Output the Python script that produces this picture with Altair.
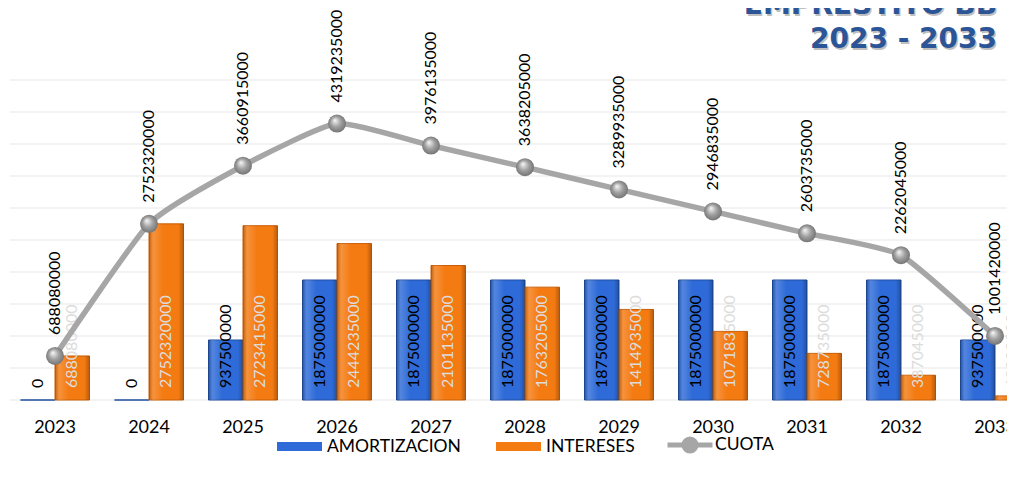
import altair as alt
import pandas as pd

# ---- data ----
years = ["2023", "2024", "2025", "2026", "2027", "2028", "2029", "2030", "2031", "2032", "2033"]
amortizacion = [0, 0, 937500000, 1875000000, 1875000000, 1875000000, 1875000000,
                1875000000, 1875000000, 1875000000, 937500000]
intereses = [688080000, 2752320000, 2723415000, 2444235000, 2101135000, 1763205000,
             1414935000, 1071835000, 728735000, 387045000, 63920000]
cuota = [688080000, 2752320000, 3660915000, 4319235000, 3976135000, 3638205000,
         3289935000, 2946835000, 2603735000, 2262045000, 1001420000]
series_bar = ["AMORTIZACION", "INTERESES"]
series_line = ["CUOTA"]
title_lines = ["EMPRESTITO BB", "2023 - 2033"]
grid_values = [i * 500000000 for i in range(11)]

BLUE = "#2E6BD8"
ORANGE = "#F47B12"
GRAY = "#A6A6A6"
FONT = "Lato"

rows = []
for i, y in enumerate(years):
    rows.append({"year": y, "serie": series_bar[0], "valor": amortizacion[i], "label": str(amortizacion[i])})
    rows.append({"year": y, "serie": series_bar[1], "valor": intereses[i], "label": str(intereses[i])})
bars_df = pd.DataFrame(rows)
line_df = pd.DataFrame({"year": years, "serie": series_line * len(years), "valor": cuota,
                        "label": [str(v) for v in cuota]})
title_df = pd.DataFrame({"t": title_lines})
grid_df = pd.DataFrame({"v": grid_values})

x_scale = alt.Scale(domain=years, range=[0, 1034], paddingInner=0.266, paddingOuter=0.133)
y_scale = alt.Scale(domain=[0, 6125000000], nice=False, zero=True)

x_enc = alt.X("year:N", scale=x_scale, sort=years,
              axis=alt.Axis(title=None, labelAngle=0, ticks=False, tickSize=0, domain=False,
                            grid=False, labelFont=FONT, labelFontSize=18, labelColor="#000000",
                            labelPadding=18))
y_enc = alt.Y("valor:Q", scale=y_scale, axis=None)

grid = alt.Chart(grid_df).mark_rule(color="#EFEFEF", strokeWidth=1.5).encode(
    y=alt.Y("v:Q", scale=y_scale, axis=None),
    x=alt.value(2),
    x2=alt.value(999),
)

base_bars = alt.Chart(bars_df)

bars = base_bars.mark_bar(strokeWidth=1).encode(
    x=x_enc,
    xOffset=alt.XOffset("serie:N", sort=series_bar, scale=alt.Scale(paddingInner=0)),
    y=y_enc,
    color=alt.Color("serie:N", sort=series_bar,
                    scale=alt.Scale(domain=series_bar, range=[BLUE, ORANGE]),
                    legend=alt.Legend(title=None, orient="none", direction="horizontal",
                                      legendX=269, legendY=416,
                                      symbolType="M-1,-0.2H1V0.2H-1Z", symbolSize=2025,
                                      symbolStrokeWidth=0,
                                      labelFont=FONT, labelFontSize=17.5, labelColor="#000000",
                                      labelOffset=5, columnPadding=35)),
    stroke=alt.Stroke("serie:N", sort=series_bar,
                      scale=alt.Scale(domain=series_bar, range=["#1F4E9E", "#C95E08"]),
                      legend=None),
)

# bevel-like shading overlay on the bars
shade = base_bars.mark_bar(
    color=alt.LinearGradient(gradient="linear", x1=0, y1=0, x2=1, y2=0,
                             stops=[alt.GradientStop(color="rgba(0,0,0,0.22)", offset=0),
                                    alt.GradientStop(color="rgba(255,255,255,0.18)", offset=0.12),
                                    alt.GradientStop(color="rgba(255,255,255,0.0)", offset=0.4),
                                    alt.GradientStop(color="rgba(0,0,0,0.0)", offset=0.85),
                                    alt.GradientStop(color="rgba(0,0,0,0.25)", offset=1)])
).encode(
    x=alt.X("year:N", scale=x_scale, sort=years),
    xOffset=alt.XOffset("serie:N", sort=series_bar),
    y=alt.Y("valor:Q", scale=y_scale),
)

amort_labels = base_bars.transform_filter(alt.datum.serie == series_bar[0]).mark_text(
    angle=270, align="left", baseline="middle", dx=12, font=FONT, fontSize=16, color="#000000"
).encode(
    x=alt.X("year:N", scale=x_scale, sort=years),
    xOffset=alt.XOffset("serie:N", sort=series_bar),
    y=alt.datum(0),
    text="label:N",
)

int_labels = base_bars.transform_filter(alt.datum.serie == series_bar[1]).mark_text(
    angle=270, align="left", baseline="middle", dx=12, font=FONT, fontSize=16, color="#DCDCDC"
).encode(
    x=alt.X("year:N", scale=x_scale, sort=years),
    xOffset=alt.XOffset("serie:N", sort=series_bar),
    y=alt.datum(0),
    text="label:N",
)

base_line = alt.Chart(line_df)

line = base_line.mark_line(interpolate="cardinal", tension=0.5, strokeWidth=5.5, strokeCap="round").encode(
    x=alt.X("year:N", scale=x_scale, sort=years),
    y=alt.Y("valor:Q", scale=y_scale),
    stroke=alt.Stroke("serie:N", scale=alt.Scale(domain=series_line, range=[GRAY]),
                      legend=alt.Legend(title=None, orient="none", direction="horizontal",
                                        legendX=657, legendY=412,
                                        symbolType="M-1,0H1M0.27,0A0.27,0.27,0,1,1,-0.27,0A0.27,0.27,0,1,1,0.27,0",
                                        symbolSize=2025, symbolStrokeWidth=5,
                                        symbolFillColor=GRAY, symbolStrokeColor=GRAY,
                                        labelFont=FONT, labelFontSize=17.5, labelColor="#000000",
                                        labelOffset=0)),
)

points = base_line.mark_point(
    filled=True, size=324, opacity=1, strokeWidth=0,
    color=alt.RadialGradient(gradient="radial", x1=0.38, y1=0.32, r1=0.02, x2=0.5, y2=0.5, r2=0.55,
                             stops=[alt.GradientStop(color="#F2F2F2", offset=0),
                                    alt.GradientStop(color="#A0A0A0", offset=0.5),
                                    alt.GradientStop(color="#6E6E6E", offset=1)]),
).encode(
    x=alt.X("year:N", scale=x_scale, sort=years),
    y=alt.Y("valor:Q", scale=y_scale),
)

cuota_labels = base_line.mark_text(
    angle=270, align="left", baseline="middle", dx=21, font=FONT, fontSize=16, color="#000000"
).encode(
    x=alt.X("year:N", scale=x_scale, sort=years),
    y=alt.Y("valor:Q", scale=y_scale),
    text="label:N",
)

def title_layer(txt, ypix, color, dx=0, dy=0):
    return alt.Chart(title_df).transform_filter(alt.datum.t == txt).mark_text(
        align="right", baseline="alphabetic", font="DejaVu Sans", fontWeight="bold", fontSize=28,
        color=color, dx=dx, dy=dy
    ).encode(x=alt.value(989), y=alt.value(ypix), text="t:N")

title_shadow1 = title_layer(title_lines[0], 6, "rgba(0,0,0,0.25)", 1.5, 2)
title_shadow2 = title_layer(title_lines[1], 40, "rgba(0,0,0,0.25)", 1.5, 2)
title1 = title_layer(title_lines[0], 6, "#2B5597")
title2 = title_layer(title_lines[1], 40, "#2B5597")

chart = alt.layer(
    grid, bars, shade, amort_labels, int_labels, line, points, cuota_labels,
    title_shadow1, title_shadow2, title1, title2
).resolve_scale(
    color="independent", stroke="independent"
).properties(
    width=999, height=392,
    autosize=alt.AutoSizeParams(type="none"),
    padding={"left": 0, "top": 0, "right": 0, "bottom": 68},
    background="#FFFFFF",
).configure_view(stroke=None)

chart.save("out.html", embed_options={"renderer": "svg", "actions": False})
